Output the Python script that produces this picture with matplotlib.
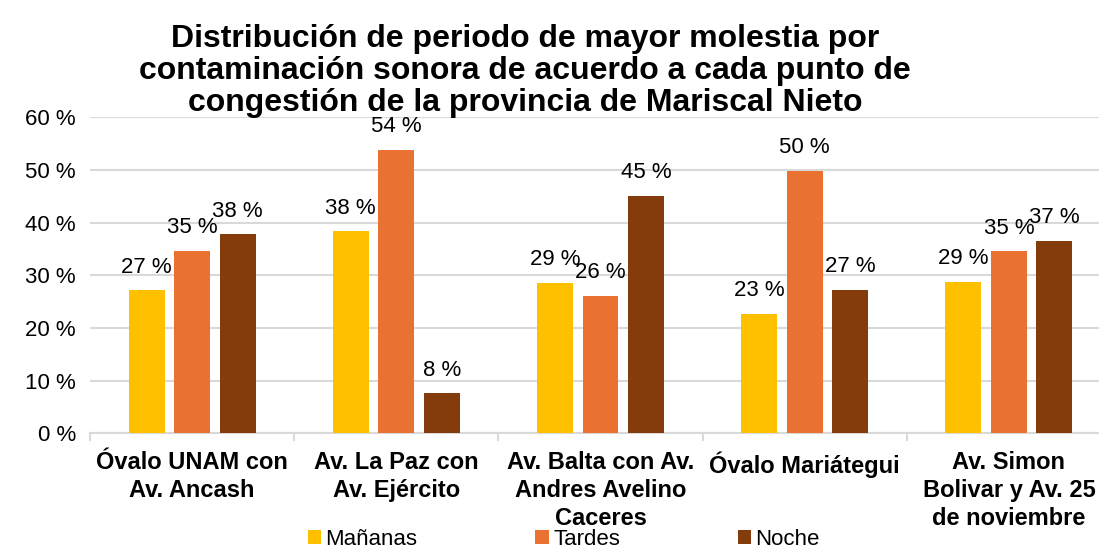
import numpy as np
import matplotlib.pyplot as plt

plt.rcParams['font.family'] = ['Liberation Sans', 'DejaVu Sans']

# Data
categories = ["Óvalo UNAM con\nAv. Ancash",
              "Av. La Paz con\nAv. Ejército",
              "Av. Balta con Av.\nAndres Avelino\nCaceres",
              "Óvalo Mariátegui",
              "Av. Simon\nBolivar y Av. 25\nde noviembre"]
series_names = ["Mañanas", "Tardes", "Noche"]
mananas = [27.2, 38.4, 28.6, 22.7, 28.8]
tardes = [34.7, 53.8, 26.1, 49.9, 34.6]
noche = [37.8, 7.6, 45.1, 27.3, 36.6]
colors = ["#FFC000", "#E97132", "#843C0C"]

fig = plt.figure(figsize=(10.99, 5.49), dpi=100)
ax = fig.add_axes([0.0819, 0.2107, 0.929, 0.5756])

x = np.arange(len(categories))
width = 0.176
pitch = 0.223
for i, (vals, name) in enumerate(zip([mananas, tardes, noche], series_names)):
    pos = x + (i - 1) * pitch
    bars = ax.bar(pos, vals, width, color=colors[i], label=name, zorder=3)
    for b, v in zip(bars, vals):
        ax.annotate(f"{round(v):d} %", (b.get_x() + b.get_width() / 2, v),
                    xytext=(0, 9), textcoords="offset points",
                    ha="center", va="bottom", fontsize=16, color="#000000", zorder=4)

ax.set_xlim(-0.5, len(categories) - 0.5)
ax.set_ylim(0, 60)
ax.set_yticks(range(0, 61, 10))
ax.set_yticklabels([f"{v} %" for v in range(0, 61, 10)], fontsize=16)
ax.yaxis.grid(True, color="#D9D9D9", linewidth=1.5, zorder=0)
ax.tick_params(axis="y", length=0, pad=10)

ax.set_xticks(x)
ax.set_xticklabels(categories, fontsize=17, fontweight="bold", linespacing=1.28)
ax.set_xticks(np.arange(-0.5, len(categories), 1.0), minor=True)
ax.tick_params(axis="x", which="major", length=0, pad=13)
ax.tick_params(axis="x", which="minor", length=6, color="#D9D9D9", width=1.5)

for s in ["top", "right", "left"]:
    ax.spines[s].set_visible(False)
ax.spines["bottom"].set_color("#D9D9D9")
ax.spines["bottom"].set_linewidth(1.5)

fig.text(0.478, 1 - 71 / 549,
         "Distribución de periodo de mayor molestia por\n"
         "contaminación sonora de acuerdo a cada punto de\n"
         "congestión de la provincia de Mariscal Nieto",
         ha="center", va="center", fontsize=23, fontweight="bold", linespacing=1.1)

fig.legend(loc="center", bbox_to_anchor=(0.513, 0.017), ncol=3, frameon=False,
           fontsize=16, handlelength=0.6, handleheight=0.6, handletextpad=0.2,
           columnspacing=5.3)

fig.savefig("out.png", dpi=100)
